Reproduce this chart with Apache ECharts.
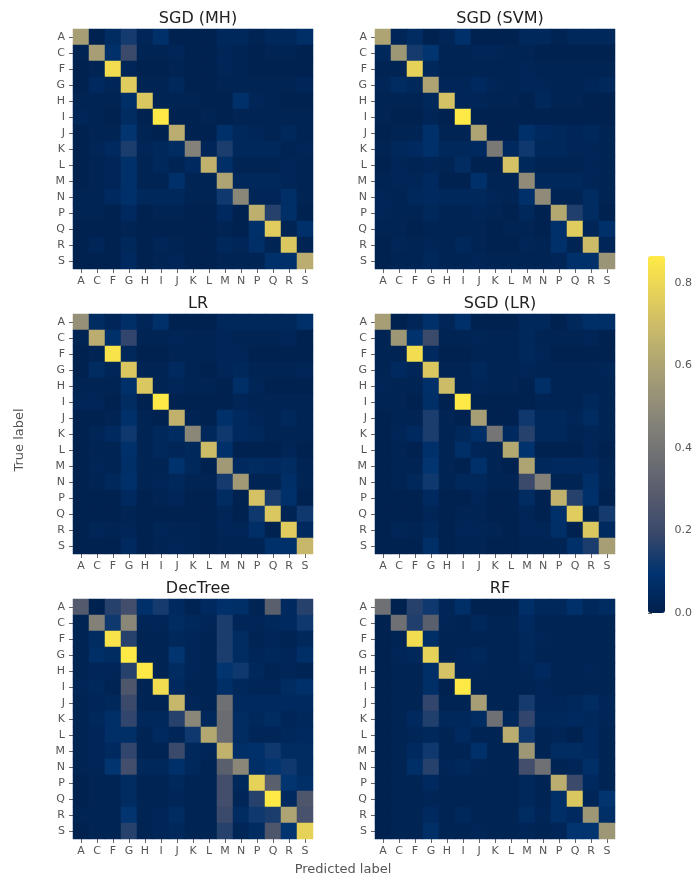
<!DOCTYPE html>
<html><head><meta charset="utf-8">
<script src="https://cdn.jsdelivr.net/npm/echarts@6/dist/echarts.min.js"></script>
<style>html,body{margin:0;padding:0;background:#fff}#c{width:695px;height:881px}</style>
</head><body><div id="c"></div>
<script>
const labels = ['A','C','F','G','H','I','J','K','L','M','N','P','Q','R','S'];
const titles = ['SGD (MH)','SGD (SVM)','LR','SGD (LR)','DecTree','RF'];
const colorTicks = [0, 0.2, 0.4, 0.6, 0.8];
const vmax = 0.865;

const sgdMH = [
[0.58,0.01,0.06,0.13,0.03,0.08,0.01,0.01,0.01,0.04,0.04,0.02,0.04,0.04,0.07],
[0.02,0.58,0.08,0.20,0.02,0.02,0.03,0.01,0.01,0.03,0.02,0.01,0.02,0.02,0.01],
[0.01,0.02,0.82,0.03,0.01,0.01,0.02,0.01,0.01,0.03,0.02,0.01,0.01,0.01,0.01],
[0.01,0.05,0.03,0.76,0.02,0.02,0.04,0.01,0.01,0.02,0.02,0.02,0.02,0.02,0.03],
[0.02,0.02,0.02,0.07,0.74,0.02,0.02,0.02,0.01,0.01,0.08,0.03,0.02,0.01,0.01],
[0.03,0.02,0.01,0.06,0.01,0.86,0.01,0.01,0.02,0.01,0.02,0.02,0.02,0.02,0.02],
[0.01,0.02,0.02,0.10,0.02,0.01,0.64,0.01,0.01,0.08,0.04,0.03,0.02,0.04,0.02],
[0.01,0.03,0.05,0.14,0.03,0.04,0.06,0.46,0.03,0.14,0.04,0.04,0.04,0.02,0.03],
[0.01,0.02,0.03,0.08,0.02,0.04,0.02,0.05,0.66,0.07,0.02,0.02,0.02,0.03,0.02],
[0.01,0.02,0.03,0.08,0.02,0.02,0.08,0.02,0.02,0.60,0.04,0.04,0.04,0.03,0.02],
[0.02,0.02,0.05,0.08,0.04,0.04,0.04,0.02,0.02,0.12,0.48,0.03,0.03,0.07,0.02],
[0.02,0.02,0.01,0.05,0.01,0.02,0.02,0.01,0.01,0.05,0.01,0.65,0.16,0.07,0.01],
[0.01,0.01,0.01,0.02,0.01,0.01,0.01,0.01,0.01,0.02,0.01,0.08,0.76,0.02,0.08],
[0.01,0.03,0.01,0.04,0.01,0.03,0.02,0.01,0.01,0.04,0.03,0.07,0.02,0.74,0.02],
[0.01,0.01,0.01,0.05,0.01,0.02,0.03,0.01,0.01,0.02,0.02,0.02,0.08,0.08,0.64]
];
const sgdSVM = [
[0.60,0.03,0.06,0.01,0.03,0.08,0.01,0.01,0.01,0.04,0.04,0.02,0.04,0.04,0.04],
[0.04,0.55,0.13,0.10,0.02,0.02,0.03,0.03,0.02,0.02,0.01,0.01,0.01,0.01,0.01],
[0.02,0.02,0.78,0.04,0.02,0.02,0.02,0.02,0.02,0.03,0.02,0.02,0.02,0.02,0.02],
[0.03,0.06,0.04,0.60,0.03,0.03,0.05,0.03,0.02,0.03,0.03,0.02,0.02,0.03,0.04],
[0.02,0.02,0.02,0.04,0.72,0.03,0.03,0.02,0.02,0.01,0.04,0.02,0.02,0.01,0.01],
[0.02,0.01,0.01,0.03,0.01,0.86,0.01,0.01,0.01,0.01,0.01,0.01,0.01,0.01,0.01],
[0.01,0.02,0.02,0.08,0.02,0.02,0.60,0.01,0.01,0.08,0.05,0.04,0.03,0.04,0.02],
[0.02,0.04,0.05,0.08,0.04,0.04,0.05,0.42,0.05,0.12,0.04,0.04,0.03,0.03,0.02],
[0.01,0.03,0.02,0.03,0.02,0.06,0.01,0.01,0.72,0.04,0.02,0.02,0.02,0.03,0.02],
[0.02,0.03,0.03,0.05,0.01,0.01,0.08,0.02,0.02,0.50,0.04,0.04,0.04,0.03,0.02],
[0.03,0.02,0.04,0.05,0.04,0.04,0.04,0.03,0.02,0.08,0.50,0.02,0.02,0.06,0.02],
[0.03,0.02,0.02,0.04,0.02,0.02,0.03,0.02,0.01,0.04,0.01,0.62,0.15,0.06,0.01],
[0.02,0.02,0.01,0.02,0.02,0.02,0.02,0.01,0.02,0.02,0.01,0.08,0.76,0.03,0.08],
[0.01,0.03,0.02,0.03,0.02,0.04,0.02,0.01,0.01,0.03,0.02,0.08,0.02,0.70,0.03],
[0.01,0.02,0.02,0.04,0.02,0.02,0.03,0.02,0.02,0.02,0.02,0.03,0.08,0.08,0.54]
];
const lr = [
[0.52,0.06,0.03,0.07,0.03,0.08,0.01,0.01,0.01,0.04,0.04,0.04,0.04,0.04,0.08],
[0.02,0.64,0.08,0.18,0.02,0.02,0.03,0.02,0.02,0.03,0.02,0.02,0.02,0.03,0.01],
[0.01,0.02,0.84,0.04,0.01,0.01,0.02,0.02,0.02,0.03,0.03,0.01,0.01,0.01,0.01],
[0.01,0.06,0.03,0.74,0.02,0.02,0.05,0.02,0.01,0.03,0.04,0.02,0.02,0.02,0.03],
[0.02,0.02,0.02,0.08,0.74,0.02,0.03,0.02,0.02,0.01,0.07,0.03,0.01,0.01,0.01],
[0.03,0.03,0.01,0.06,0.01,0.86,0.01,0.01,0.01,0.01,0.03,0.02,0.02,0.02,0.02],
[0.01,0.01,0.02,0.08,0.02,0.01,0.66,0.02,0.01,0.08,0.05,0.03,0.02,0.04,0.02],
[0.01,0.03,0.05,0.12,0.02,0.04,0.06,0.48,0.04,0.12,0.05,0.04,0.02,0.02,0.02],
[0.01,0.02,0.02,0.08,0.02,0.04,0.03,0.04,0.70,0.08,0.01,0.01,0.01,0.03,0.01],
[0.01,0.03,0.02,0.07,0.02,0.02,0.09,0.04,0.01,0.56,0.05,0.06,0.05,0.06,0.02],
[0.01,0.02,0.04,0.08,0.02,0.03,0.04,0.02,0.02,0.13,0.56,0.02,0.02,0.07,0.02],
[0.01,0.01,0.01,0.05,0.01,0.02,0.03,0.01,0.01,0.06,0.01,0.72,0.14,0.08,0.01],
[0.01,0.01,0.01,0.02,0.01,0.01,0.01,0.01,0.01,0.03,0.01,0.12,0.74,0.02,0.12],
[0.01,0.03,0.02,0.03,0.01,0.03,0.02,0.02,0.01,0.03,0.03,0.07,0.01,0.76,0.05],
[0.01,0.01,0.01,0.05,0.01,0.02,0.03,0.02,0.01,0.02,0.02,0.02,0.08,0.08,0.68]
];
const sgdLR = [
[0.58,0.01,0.03,0.08,0.03,0.08,0.01,0.01,0.01,0.04,0.04,0.01,0.04,0.07,0.07],
[0.02,0.55,0.09,0.20,0.02,0.02,0.03,0.02,0.02,0.04,0.02,0.02,0.02,0.03,0.01],
[0.02,0.02,0.82,0.05,0.01,0.01,0.02,0.02,0.02,0.04,0.03,0.01,0.01,0.01,0.01],
[0.02,0.05,0.03,0.74,0.02,0.02,0.04,0.02,0.02,0.03,0.02,0.02,0.02,0.02,0.03],
[0.03,0.02,0.02,0.08,0.70,0.02,0.03,0.02,0.02,0.01,0.07,0.02,0.02,0.02,0.02],
[0.02,0.02,0.01,0.07,0.01,0.86,0.01,0.01,0.01,0.01,0.02,0.02,0.02,0.04,0.02],
[0.01,0.02,0.02,0.14,0.02,0.01,0.58,0.01,0.01,0.12,0.04,0.04,0.03,0.06,0.02],
[0.01,0.03,0.05,0.14,0.02,0.04,0.07,0.40,0.05,0.16,0.04,0.04,0.02,0.03,0.02],
[0.01,0.02,0.01,0.08,0.02,0.07,0.03,0.02,0.62,0.09,0.01,0.01,0.01,0.03,0.01],
[0.01,0.02,0.02,0.10,0.02,0.01,0.08,0.02,0.01,0.60,0.04,0.05,0.05,0.05,0.02],
[0.01,0.02,0.04,0.12,0.02,0.04,0.04,0.02,0.02,0.20,0.46,0.02,0.02,0.07,0.02],
[0.01,0.01,0.01,0.05,0.01,0.01,0.03,0.01,0.01,0.06,0.01,0.66,0.16,0.08,0.01],
[0.01,0.01,0.01,0.03,0.01,0.02,0.02,0.01,0.01,0.03,0.01,0.08,0.76,0.02,0.13],
[0.01,0.03,0.02,0.04,0.01,0.03,0.03,0.02,0.01,0.03,0.03,0.07,0.01,0.74,0.05],
[0.01,0.01,0.01,0.07,0.01,0.02,0.02,0.01,0.01,0.02,0.02,0.02,0.08,0.14,0.58]
];
const decTree = [
[0.28,0.01,0.16,0.22,0.08,0.13,0.05,0.02,0.05,0.08,0.07,0.02,0.30,0.05,0.16],
[0.02,0.45,0.12,0.48,0.03,0.03,0.06,0.04,0.03,0.14,0.03,0.03,0.04,0.05,0.12],
[0.02,0.06,0.84,0.16,0.02,0.02,0.04,0.03,0.02,0.14,0.06,0.02,0.03,0.02,0.04],
[0.02,0.07,0.06,0.86,0.02,0.02,0.10,0.03,0.02,0.14,0.06,0.03,0.04,0.03,0.07],
[0.02,0.03,0.03,0.16,0.86,0.02,0.06,0.03,0.02,0.10,0.12,0.04,0.02,0.03,0.02],
[0.03,0.04,0.02,0.26,0.02,0.82,0.05,0.02,0.02,0.07,0.04,0.03,0.03,0.06,0.08],
[0.02,0.03,0.04,0.20,0.02,0.02,0.68,0.03,0.02,0.38,0.05,0.05,0.05,0.05,0.05],
[0.02,0.04,0.07,0.18,0.04,0.04,0.16,0.48,0.04,0.36,0.06,0.04,0.06,0.03,0.04],
[0.02,0.03,0.07,0.07,0.02,0.05,0.03,0.12,0.62,0.36,0.06,0.03,0.03,0.04,0.05],
[0.02,0.03,0.05,0.18,0.02,0.02,0.20,0.04,0.03,0.66,0.07,0.08,0.12,0.06,0.06],
[0.02,0.03,0.10,0.22,0.04,0.04,0.08,0.04,0.02,0.30,0.48,0.07,0.10,0.12,0.06],
[0.01,0.02,0.02,0.06,0.02,0.02,0.04,0.02,0.02,0.22,0.04,0.78,0.30,0.10,0.07],
[0.01,0.02,0.02,0.06,0.02,0.02,0.03,0.02,0.02,0.22,0.03,0.16,0.86,0.05,0.26],
[0.02,0.02,0.02,0.10,0.02,0.03,0.06,0.02,0.02,0.20,0.06,0.12,0.14,0.60,0.24],
[0.01,0.02,0.02,0.16,0.02,0.03,0.04,0.02,0.02,0.16,0.03,0.06,0.26,0.10,0.78]
];
const rf = [
[0.38,0.01,0.16,0.12,0.03,0.07,0.01,0.01,0.01,0.07,0.04,0.04,0.08,0.04,0.06],
[0.01,0.38,0.15,0.30,0.03,0.02,0.04,0.02,0.02,0.05,0.02,0.02,0.02,0.02,0.02],
[0.01,0.02,0.82,0.07,0.02,0.02,0.02,0.02,0.02,0.04,0.03,0.02,0.02,0.02,0.02],
[0.01,0.03,0.04,0.78,0.02,0.03,0.04,0.02,0.02,0.04,0.02,0.02,0.02,0.02,0.02],
[0.01,0.02,0.02,0.07,0.72,0.03,0.03,0.02,0.02,0.03,0.05,0.02,0.02,0.03,0.02],
[0.01,0.02,0.02,0.07,0.01,0.86,0.02,0.02,0.02,0.02,0.03,0.02,0.02,0.02,0.02],
[0.01,0.02,0.02,0.18,0.02,0.02,0.58,0.02,0.02,0.13,0.03,0.03,0.04,0.06,0.03],
[0.01,0.02,0.05,0.15,0.04,0.04,0.06,0.38,0.04,0.18,0.04,0.04,0.05,0.04,0.03],
[0.01,0.02,0.03,0.04,0.02,0.05,0.02,0.02,0.64,0.12,0.02,0.03,0.01,0.05,0.02],
[0.01,0.02,0.05,0.12,0.02,0.02,0.08,0.02,0.02,0.55,0.02,0.06,0.06,0.05,0.02],
[0.01,0.02,0.07,0.16,0.03,0.04,0.03,0.02,0.02,0.22,0.38,0.02,0.03,0.07,0.02],
[0.01,0.02,0.02,0.05,0.02,0.02,0.02,0.02,0.02,0.04,0.02,0.64,0.20,0.05,0.02],
[0.01,0.02,0.02,0.03,0.02,0.02,0.02,0.02,0.02,0.04,0.02,0.07,0.74,0.03,0.10],
[0.01,0.02,0.02,0.05,0.02,0.04,0.02,0.02,0.02,0.06,0.03,0.07,0.05,0.55,0.07],
[0.01,0.02,0.02,0.07,0.02,0.02,0.03,0.02,0.02,0.03,0.02,0.03,0.10,0.10,0.55]
];
const matrices = [sgdMH, sgdSVM, lr, sgdLR, decTree, rf];

const cividis = ['#00204D','#00336F','#39486B','#575C6D','#707173','#8A8779','#A69D75','#C4B56C','#E4CF5B','#FFEA46'];
const FONT = 'DejaVu Sans';
const lefts = [73, 375];
const tops = [29, 314, 599];
const W = 240, H = 240;

const grid = [], xAxis = [], yAxis = [], series = [], title = [];
matrices.forEach((m, k) => {
  const col = k % 2, row = Math.floor(k / 2);
  grid.push({left: lefts[col], top: tops[row], width: W, height: H});
  xAxis.push({type: 'category', gridIndex: k, data: labels, position: 'bottom',
    axisLine: {show: false}, splitLine: {show: false}, splitArea: {show: false},
    axisTick: {show: true, alignWithLabel: true, length: 4, lineStyle: {color: '#666'}},
    axisLabel: {fontSize: 11, color: '#555', fontFamily: FONT, margin: 7, interval: 0}});
  yAxis.push({type: 'category', gridIndex: k, data: labels, inverse: true,
    axisLine: {show: false}, splitLine: {show: false}, splitArea: {show: false},
    axisTick: {show: true, alignWithLabel: true, length: 4, lineStyle: {color: '#666'}},
    axisLabel: {fontSize: 11, color: '#555', fontFamily: FONT, margin: 8, interval: 0}});
  const data = [];
  m.forEach((r, i) => r.forEach((v, j) => data.push([j, i, v])));
  series.push({type: 'heatmap', xAxisIndex: k, yAxisIndex: k, data: data,
    emphasis: {disabled: true}, progressive: 0, itemStyle: {borderWidth: 0}});
  title.push({text: titles[k], left: lefts[col] + W / 2, top: tops[row] - 23, textAlign: 'center',
    textStyle: {fontSize: 16, fontWeight: 'normal', color: '#222', fontFamily: FONT}});
});

// colorbar axis
grid.push({left: 648, top: 256, width: 17, height: 357});
xAxis.push({type: 'value', gridIndex: 6, show: false, min: 0, max: 1});
yAxis.push({type: 'value', gridIndex: 6, position: 'right', min: 0, max: vmax,
  axisLine: {show: false}, splitLine: {show: false},
  axisTick: {show: true, length: 4, lineStyle: {color: '#666'}, customValues: colorTicks},
  axisLabel: {fontSize: 11, color: '#555', fontFamily: FONT, margin: 10,
    customValues: colorTicks, formatter: v => v.toFixed(1)}});
series.push({type: 'scatter', xAxisIndex: 6, yAxisIndex: 6, data: [], silent: true});

const chart = echarts.init(document.getElementById('c'), null, {renderer: 'canvas'});
chart.setOption({
  animation: false,
  backgroundColor: '#fff',
  title: title,
  grid: grid, xAxis: xAxis, yAxis: yAxis, series: series,
  visualMap: {type: 'continuous', min: 0, max: vmax, seriesIndex: [0,1,2,3,4,5],
    orient: 'vertical', left: 648, top: 256, itemWidth: 17, itemHeight: 357,
    padding: 0, calculable: false, text: null, showLabel: false, hoverLink: false,
    inRange: {color: cividis}},
  graphic: [
    {type: 'text', x: 20, y: 440, rotation: Math.PI / 2,
      style: {text: 'True label', fontSize: 13, fill: '#555', fontFamily: FONT, align: 'center', verticalAlign: 'middle'}},
    {type: 'text', x: 343, y: 870,
      style: {text: 'Predicted label', fontSize: 13, fill: '#555', fontFamily: FONT, align: 'center', verticalAlign: 'middle'}}
  ]
});
</script></body></html>
